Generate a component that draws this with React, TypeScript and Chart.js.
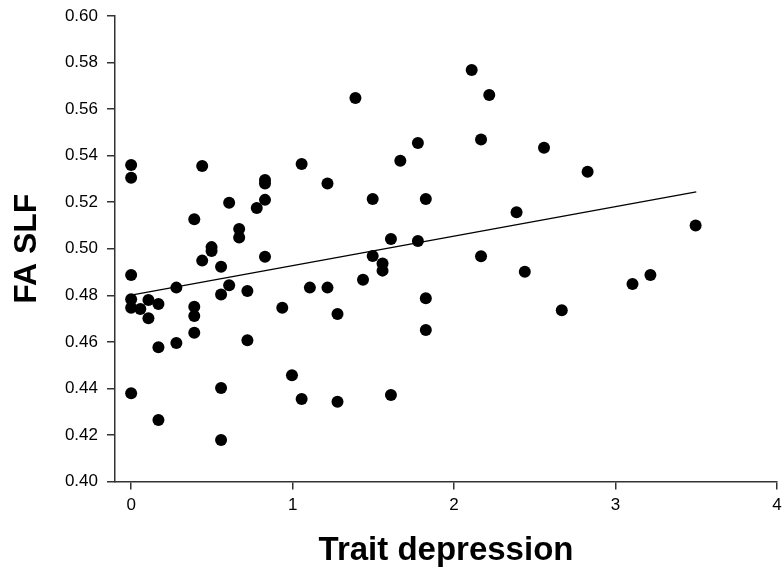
import React, { useEffect, useRef } from "react";
import { Chart, registerables } from "chart.js";

Chart.register(...registerables);

const traitX: number[] = [
  0, 0, 0, 0, 0, 0,
  0.057, 0.107, 0.107,
  0.169, 0.169, 0.169,
  0.28, 0.28,
  0.391, 0.391, 0.391, 0.391,
  0.44, 0.44,
  0.498, 0.498,
  0.557, 0.557, 0.557, 0.557,
  0.607, 0.607,
  0.669, 0.669,
  0.72, 0.72,
  0.778,
  0.829, 0.829, 0.829, 0.829,
  0.936, 0.996,
  1.056, 1.056,
  1.107,
  1.216, 1.216,
  1.278, 1.278,
  1.389, 1.436,
  1.496, 1.496,
  1.557, 1.557,
  1.609, 1.609,
  1.667,
  1.776, 1.776,
  1.825, 1.825, 1.825,
  2.109,
  2.167, 2.167,
  2.218, 2.387, 2.438, 2.557, 2.667, 2.827,
  3.105, 3.216, 3.496,
];

const faSLF: number[] = [
  0.536, 0.5305, 0.4887, 0.4783, 0.4747, 0.4379,
  0.4741, 0.478, 0.4701,
  0.4763, 0.4577, 0.4264,
  0.4833, 0.4595,
  0.5127, 0.4751, 0.4711, 0.4639,
  0.5356, 0.4949,
  0.5007, 0.499,
  0.4923, 0.4803, 0.4402, 0.4178,
  0.5198, 0.4843,
  0.5085, 0.5048,
  0.4818, 0.4607,
  0.5175,
  0.5295, 0.528, 0.521, 0.4966,
  0.4747, 0.4456,
  0.5364, 0.4354,
  0.4833,
  0.528, 0.4833,
  0.472, 0.4343,
  0.5648, 0.4867,
  0.5214, 0.4969,
  0.4937, 0.4906,
  0.5042, 0.4372,
  0.5378,
  0.5454, 0.5033,
  0.5214, 0.4787, 0.4651,
  0.5768,
  0.5469, 0.4968,
  0.5661, 0.5157, 0.4901, 0.5434, 0.4736, 0.5331,
  0.4849, 0.4887, 0.510,
];

const fitX: number[] = [0, 3.5];
const fitY: number[] = [0.4801, 0.5244];

const xTicks: number[] = [0, 1, 2, 3, 4];
const yTicks: number[] = [0.4, 0.42, 0.44, 0.46, 0.48, 0.5, 0.52, 0.54, 0.56, 0.58, 0.6];

const FONT = "'Liberation Sans', Arial, Helvetica, sans-serif";

export default function App() {
  const canvasRef = useRef<HTMLCanvasElement | null>(null);

  useEffect(() => {
    if (!canvasRef.current) return;
    const points = traitX.map((x, i) => ({ x, y: faSLF[i] }));
    const line = fitX.map((x, i) => ({ x, y: fitY[i] }));
    const chart = new Chart(canvasRef.current, {
      type: "scatter",
      data: {
        datasets: [
          {
            data: points,
            backgroundColor: "#000",
            borderColor: "#000",
            borderWidth: 0,
            pointRadius: 6,
            pointHoverRadius: 6,
            order: 0,
          },
          {
            type: "line",
            data: line,
            borderColor: "#000",
            borderWidth: 1.3,
            pointRadius: 0,
            fill: false,
            order: 1,
          } as any,
        ],
      },
      options: {
        responsive: false,
        animation: false,
        events: [],
        layout: { padding: { top: 16, right: 2, left: 0, bottom: 0 } },
        plugins: {
          legend: { display: false },
          tooltip: { enabled: false },
        },
        scales: {
          x: {
            type: "linear",
            min: -0.1,
            max: 4,
            afterBuildTicks: (s: any) => {
              s.ticks = xTicks.map((v) => ({ value: v }));
            },
            afterFit: (s: any) => {
              s.height = 94.5;
              s.paddingLeft = 0;
              s.paddingRight = 0;
            },
            grid: {
              drawOnChartArea: false,
              tickLength: 8,
              color: "#333",
              lineWidth: 1.5,
            },
            border: { color: "#333", width: 1.5 },
            ticks: {
              color: "#000",
              font: { family: FONT, size: 17 },
              padding: 6,
              maxRotation: 0,
              callback: (v: any) => String(v),
            },
            title: {
              display: true,
              text: "Trait depression",
              color: "#000",
              font: { family: FONT, size: 33, weight: "bold" },
              padding: { top: 0, bottom: 5 },
            },
          },
          y: {
            type: "linear",
            min: 0.4,
            max: 0.6,
            afterBuildTicks: (s: any) => {
              s.ticks = yTicks.map((v) => ({ value: v }));
            },
            afterFit: (s: any) => {
              s.width = 115;
              s.paddingTop = 0;
              s.paddingBottom = 0;
            },
            grid: {
              drawOnChartArea: false,
              tickLength: 8,
              color: "#333",
              lineWidth: 1.5,
            },
            border: { color: "#333", width: 1.5 },
            ticks: {
              color: "#000",
              font: { family: FONT, size: 17 },
              padding: 9,
              callback: (v: any) => Number(v).toFixed(2),
            },
            title: {
              display: true,
              text: "FA SLF",
              color: "#000",
              font: { family: FONT, size: 32, weight: "bold" },
              padding: { top: 8, bottom: 0 },
            },
          },
        },
      },
    });
    return () => chart.destroy();
  }, []);

  return (
    <div style={{ position: "fixed", left: 0, top: 0, width: 783, height: 576, background: "#fff" }}>
      <canvas ref={canvasRef} width={783} height={576} />
    </div>
  );
}
